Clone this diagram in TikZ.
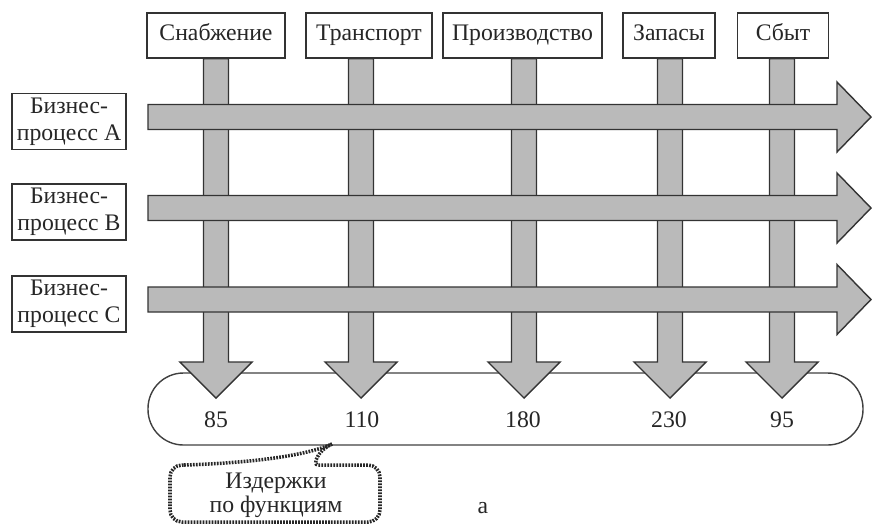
\documentclass[tikz,border=0pt]{standalone}
\usepackage{fontspec}
\setmainfont{Liberation Serif}
\usetikzlibrary{calc}

\tikzset{
  kasten/.style={draw=black!80, line width=0.8pt, fill=white, inner sep=0pt,
    minimum height=0.9cm, align=center, text=black!85,
    font=\fontsize{13.5}{15.5}\selectfont},
  funktion/.style={kasten, text height=1.6ex, text depth=0.45ex},
  dickpfeil/.style={draw=black!80, line width=0.8pt, fill=black!27, line join=miter},
  zahl/.style={text=black!85, font=\fontsize{13.5}{15}\selectfont},
  kommentar/.style={draw=black!85, line width=2pt, dash pattern=on 1pt off 0.7pt}
}

% fat arrow pointing down: #1 start, #2 tip
\newcommand{\pfeilrunter}[2]{%
  \draw[dickpfeil] ($(#1)+(-12.5,0)$) -- ($(#2)+(-12.5,-36)$) -- ($(#2)+(-36,-36)$)
    -- (#2) -- ($(#2)+(36,-36)$) -- ($(#2)+(12.5,-36)$) -- ($(#1)+(12.5,0)$) -- cycle;}
% fat arrow pointing right: #1 start, #2 tip
\newcommand{\pfeilrechts}[2]{%
  \draw[dickpfeil] ($(#1)+(0,-12.5)$) -- ($(#2)+(-34,-12.5)$) -- ($(#2)+(-34,-35)$)
    -- (#2) -- ($(#2)+(-34,35)$) -- ($(#2)+(-34,12.5)$) -- ($(#1)+(0,12.5)$) -- cycle;}

\begin{document}
\begin{tikzpicture}[x=0.02cm,y=-0.02cm]
    \useasboundingbox (0,0) rectangle (872,525);

    % Funktionen
    \node[funktion,minimum width=2.76cm] (snab) at (216,35.5) {Снабжение};
    \node[funktion,minimum width=2.52cm] (trans) at (369,35.5) {Транспорт};
    \node[funktion,minimum width=3.18cm] (proizv) at (522.5,35.5) {Производство};
    \node[funktion,minimum width=1.84cm] (zapas) at (669,35.5) {Запасы};
    \node[funktion,minimum width=1.82cm] (sbyt) at (783,35.5) {Сбыт};

    % Prozesse
    \node[kasten,minimum width=2.28cm,minimum height=1.12cm] (procA) at (69,121.5)
      {Бизнес-\\процесс А};
    \node[kasten,minimum width=2.28cm,minimum height=1.12cm] (procB) at (69,212)
      {Бизнес-\\процесс В};
    \node[kasten,minimum width=2.28cm,minimum height=1.12cm] (procC) at (69,304)
      {Бизнес-\\процесс С};

    % Kosten
    \draw[draw=black!75,line width=0.8pt,rounded corners=0.71cm]
      (148,373) rectangle (863,445);
    \node[zahl] (k1) at (216,420) {85};
    \node[zahl] (k2) at (362,420) {110};
    \node[zahl] (k3) at (523,420) {180};
    \node[zahl] (k4) at (669,420) {230};
    \node[zahl] (k5) at (782,420) {95};

    \coordinate (t1) at (216,398);
    \coordinate (t2) at (361,398);
    \coordinate (t3) at (524,398);
    \coordinate (t4) at (670,398);
    \coordinate (t5) at (782,398);

    \pfeilrunter{t1 |- snab.south}{t1}
    \pfeilrunter{t2 |- trans.south}{t2}
    \pfeilrunter{t3 |- proizv.south}{t3}
    \pfeilrunter{t4 |- zapas.south}{t4}
    \pfeilrunter{t5 |- sbyt.south}{t5}

    \coordinate (sA) at (148,117);
    \coordinate (sB) at (148,208);
    \coordinate (sC) at (148,299.5);
    \pfeilrechts{sA}{871,117}
    \pfeilrechts{sB}{871,208}
    \pfeilrechts{sC}{871,299.5}

    % Legende
    \coordinate (spitze) at (332,444);
    \draw[kommentar,rounded corners=0.24cm] (spitze) .. controls (318,450) and (312,465) .. (330,465)
      -- (380,465) -- (380,522) -- (170,522) -- (170,465) -- (185,465);
    \draw[kommentar] (184,465) .. controls (250,463) and (305,456) .. (spitze);
    \node[zahl,align=center,font=\fontsize{13.5}{13.5}\selectfont] (izd) at (276,495)
      {Издержки\\по функциям};

    \node[zahl] (bukva) at (483,508) {а};
  \end{tikzpicture}
\end{document}
